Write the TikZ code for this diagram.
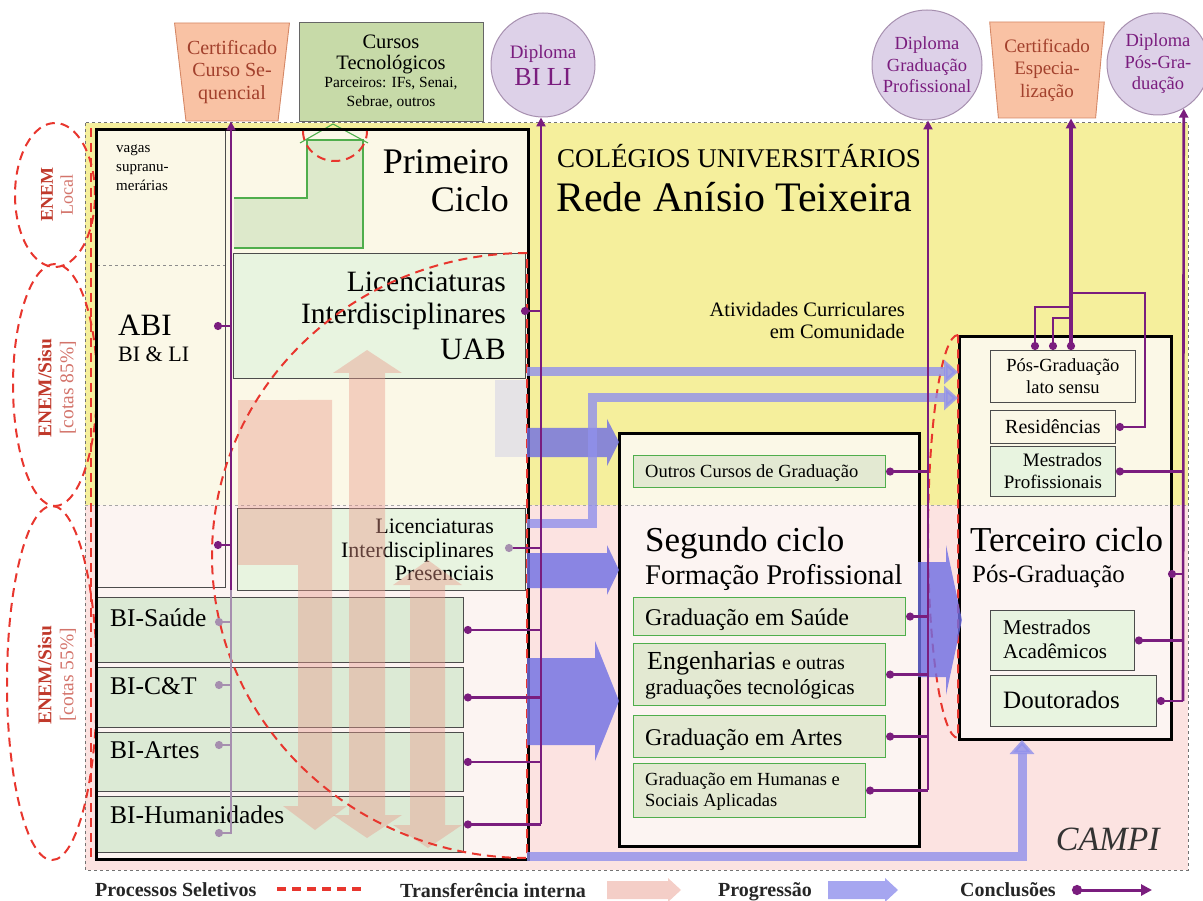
\documentclass[tikz,border=0pt]{standalone}
\usepackage{fontspec}
\setmainfont{Liberation Serif}
\usetikzlibrary{arrows.meta,shapes.geometric}

\definecolor{amarelo}{HTML}{F5EF9C}
\definecolor{rosa}{HTML}{FCE3E1}
\definecolor{creme}{HTML}{FBF8E7}
\definecolor{rosaclaro}{HTML}{FCF4F2}
\definecolor{verdeclaro}{HTML}{E8F4E0}
\definecolor{verdebi}{HTML}{DCEAD5}
\definecolor{verdegrad}{HTML}{E3E9D2}
\definecolor{verdeborda}{HTML}{4FAE4C}
\definecolor{cursotec}{HTML}{C7DAA8}
\definecolor{roxo}{HTML}{7A1D7E}
\definecolor{lilas}{HTML}{A68FAF}
\definecolor{lilasfundo}{HTML}{DDD1E8}
\definecolor{laranja}{HTML}{F9C2A4}
\definecolor{laranjaborda}{HTML}{D58866}
\definecolor{tijolo}{HTML}{A2402C}
\definecolor{vermelho}{HTML}{E8362E}
\definecolor{vinho}{HTML}{C0392B}
\definecolor{azul}{HTML}{6E6EE4}
\definecolor{azulclaro}{HTML}{9090EC}
\definecolor{transf}{HTML}{E8998A}

\newcommand{\fsz}[2]{\fontsize{#1}{#2}\selectfont}

\tikzset{
  caixa/.style={draw=black!70, line width=0.9pt, anchor=north west, inner sep=0pt},
  ciclo/.style={draw=black, line width=3pt, anchor=north west, inner sep=0pt},
  gradbox/.style={draw=verdeborda, line width=1.1pt, fill=verdegrad, anchor=north west, inner sep=0pt},
  txt/.style={inner sep=0pt},
  diploma/.style={circle, draw=lilas, line width=1pt, fill=lilasfundo, text=roxo, align=center, inner sep=0pt},
  certif/.style={trapezium, shape border rotate=180, trapezium stretches=true, draw=laranjaborda, line width=0.9pt, fill=laranja, text=tijolo, align=center, inner sep=0pt},
  sel/.style={rotate=90, align=center, text=vinho, inner sep=0pt},
  selecao/.style={draw=vermelho, line width=2pt, dash pattern=on 9pt off 6pt},
  concl/.style={draw=roxo, line width=2.2pt, arrows={Circle[length=8pt]-}},
  conclclaro/.style={draw=lilas, line width=2pt, arrows={Circle[length=8pt]-}},
  tronco/.style={draw=roxo, line width=2.6pt, arrows={-Triangle[length=9pt,width=9pt]}},
  progr/.style={fill=azul, opacity=0.8},
  progline/.style={draw=azulclaro, line width=9pt, opacity=0.8, line join=miter, arrows={-Triangle[length=14pt,width=24pt]}},
  transfer/.style={fill=transf, opacity=0.42},
}

\begin{document}
\begin{tikzpicture}[x=1pt,y=-1pt]
\useasboundingbox (0,0) rectangle (1203,901);

% fundos: colegios e campi
\fill[amarelo] (85,123) rectangle (1188,505);
\fill[rosa] (85,505) rectangle (1188,870);
\draw[black!55, dashed, line width=1pt] (85,123) rectangle (1188,870);

% processos seletivos
\draw[selecao] (55,195) ellipse [x radius=40pt, y radius=72pt];
\draw[selecao] (55,385) ellipse [x radius=42pt, y radius=121pt];
\draw[selecao] (52,683) ellipse [x radius=45pt, y radius=177pt];
\node[sel, font=\fsz{18}{20}] (enemlocal) at (57,195) {\textbf{ENEM}\\{\color{vinho!70}Local}};
\node[sel, font=\fsz{19.5}{22}] (enemsisu1) at (57,388) {\textbf{ENEM/Sisu}\\{\color{vinho!70}[cotas 85\%]}};
\node[sel, font=\fsz{19.5}{22}] (enemsisu2) at (57,675) {\textbf{ENEM/Sisu}\\{\color{vinho!70}[cotas 55\%]}};

% fundos dos ciclos
\fill[creme] (95,128) rectangle (527,505);
\fill[rosaclaro] (95,505) rectangle (527,858);
\fill[creme] (618,432) rectangle (918,505);
\fill[rosaclaro] (618,505) rectangle (918,845);
\fill[creme] (958,335) rectangle (1170,505);
\fill[rosaclaro] (958,505) rectangle (1170,738);
\draw[black!35, dashed, line width=1pt] (85,505) -- (1188,505);
\draw[selecao] (91,128) -- (91,858);

% primeiro ciclo
\node[caixa, minimum width=128pt, minimum height=459pt] (colesq) at (97,128) {};
\draw[black!45, dashed, line width=0.9pt] (97,265) -- (225,265);
\node[txt, anchor=north west, align=left, font=\fsz{15}{19}] (vagas) at (116,145) {vagas\\supranu-\\merárias};
\node[txt, anchor=base west, font=\fsz{31}{31}] (abi) at (118,336) {ABI};
\node[txt, anchor=base west, font=\fsz{22}{22}] (bili) at (118,362) {BI \& LI};
\draw[verdeborda, fill=cursotec!60, line width=1.1pt] (234,198) -- (307,198) -- (307,140) -- (363,140) -- (363,248) -- (234,248);
\draw[verdeborda, line width=1.1pt] (300,143) -- (333,124) -- (368,143);
\node[txt, anchor=base east, font=\fsz{36}{36}] (primeiro) at (509,174) {Primeiro};
\node[txt, anchor=base east, font=\fsz{36}{36}] (ciclotxt) at (509,212) {Ciclo};
\node[caixa, fill=verdeclaro, minimum width=292pt, minimum height=125pt] (uab) at (233,253) {};
\node[txt, anchor=base east, font=\fsz{29.5}{29}] (uabl1) at (506,292) {Licenciaturas};
\node[txt, anchor=base east, font=\fsz{29.5}{29}] (uabl2) at (506,324) {Interdisciplinares};
\node[txt, anchor=base east, font=\fsz{31}{31}] (uabl3) at (506,360) {UAB};
\node[caixa, fill=verdeclaro, minimum width=288pt, minimum height=82pt] (presenc) at (237,508) {};
\node[txt, anchor=base east, font=\fsz{22}{22}] (presl1) at (494,533) {Licenciaturas};
\node[txt, anchor=base east, font=\fsz{22}{22}] (presl2) at (494,557) {Interdisciplinares};
\node[txt, anchor=base east, font=\fsz{22}{22}] (presl3) at (494,580) {Presenciais};
\node[caixa, fill=verdebi, minimum width=366pt, minimum height=65pt] (bisaude) at (97,597) {};
\node[caixa, fill=verdebi, minimum width=366pt, minimum height=60pt] (bict) at (97,667) {};
\node[caixa, fill=verdebi, minimum width=366pt, minimum height=59pt] (biartes) at (97,732) {};
\node[caixa, fill=verdebi, minimum width=366pt, minimum height=56pt] (bihum) at (97,796) {};
\node[txt, anchor=base west, font=\fsz{25.5}{25}] (tsaude) at (110,626) {BI-Saúde};
\node[txt, anchor=base west, font=\fsz{25.5}{25}] (tct) at (110,694) {BI-C\&T};
\node[txt, anchor=base west, font=\fsz{25.5}{25}] (tartes) at (110,758) {BI-Artes};
\node[txt, anchor=base west, font=\fsz{25.5}{25}] (thum) at (110,823) {BI-Humanidades};

% transferencia interna
\fill[transfer] (238,400) rectangle (298,565);
\fill[transfer] (298,400) -- (332,400) -- (332,806) -- (347,806) -- (315,830) -- (283,806) -- (298,806) -- cycle;
\fill[transfer] (349,373) -- (333,373) -- (367,350) -- (402,373) -- (385,373) -- (385,815) -- (402,815) -- (367,838) -- (333,815) -- (349,815) -- cycle;
\fill[transfer] (410,585) -- (393,585) -- (428,560) -- (462,585) -- (445,585) -- (445,825) -- (462,825) -- (428,848) -- (393,825) -- (410,825) -- cycle;
\fill[azul, opacity=0.15] (495,380) rectangle (527,457);

\node[ciclo, minimum width=432pt, minimum height=730pt] (ciclo1) at (95,128) {};
\draw[selecao] (527,253) arc[start angle=90, end angle=270, x radius=315pt, y radius=302.5pt] -- cycle;
\draw[selecao] (303,131) arc[start angle=180, end angle=360, x radius=32pt, y radius=30pt];

% colegios universitarios
\node[txt, anchor=base west, font=\fsz{27}{27}] (colegios) at (557,168) {COLÉGIOS UNIVERSITÁRIOS};
\node[txt, anchor=base west, font=\fsz{42}{42}] (rede) at (556,212) {Rede Anísio Teixeira};
\node[txt, anchor=base east, font=\fsz{20.5}{20}] (ativ) at (905,317) {Atividades Curriculares};
\node[txt, anchor=base east, font=\fsz{20.5}{20}] (comun) at (905,339) {em Comunidade};

% segundo ciclo
\node[ciclo, minimum width=300pt, minimum height=413pt] (ciclo2) at (618,432) {};
\node[gradbox, minimum width=252pt, minimum height=32pt] (outros) at (633,455) {};
\node[txt, anchor=base west, font=\fsz{18.5}{18}] (outrostxt) at (645,477) {Outros Cursos de Graduação};
\node[txt, anchor=base west, font=\fsz{35}{35}] (segundo) at (645,551) {Segundo ciclo};
\node[txt, anchor=base west, font=\fsz{28.5}{28}] (formacao) at (645,584) {Formação Profissional};
\node[gradbox, minimum width=272pt, minimum height=38pt] (gsaude) at (633,597) {};
\node[txt, anchor=base west, font=\fsz{24}{24}] (gsaudetxt) at (645,625) {Graduação em Saúde};
\node[gradbox, minimum width=252pt, minimum height=62pt] (geng) at (633,643) {};
\node[txt, anchor=base west, font=\fsz{26}{26}] (gengl1) at (647,669) {Engenharias {\fsz{20}{20}e outras}};
\node[txt, anchor=base west, font=\fsz{21.5}{21}] (gengl2) at (645,694) {graduações tecnológicas};
\node[gradbox, minimum width=252pt, minimum height=42pt] (gartes) at (633,715) {};
\node[txt, anchor=base west, font=\fsz{24}{24}] (gartestxt) at (645,745) {Graduação em Artes};
\node[gradbox, minimum width=232pt, minimum height=54pt] (ghum) at (633,763) {};
\node[txt, anchor=base west, font=\fsz{18.5}{18}] (ghuml1) at (645,785) {Graduação em Humanas e};
\node[txt, anchor=base west, font=\fsz{18.5}{18}] (ghuml2) at (645,806) {Sociais Aplicadas};

% terceiro ciclo
\node[ciclo, minimum width=212pt, minimum height=403pt] (ciclo3) at (958,335) {};
\node[caixa, fill=creme, minimum width=145pt, minimum height=52pt, align=center, font=\fsz{18.5}{22}] (lato) at (990,350) {Pós-Graduação\\lato sensu};
\node[caixa, fill=creme, minimum width=125pt, minimum height=33pt, font=\fsz{20}{20}] (resid) at (990,410) {Residências};
\node[caixa, fill=verdeclaro, minimum width=125pt, minimum height=50pt, align=right, font=\fsz{19}{22}] (mprof) at (990,446) {Mestrados\\Profissionais};
\node[txt, anchor=base west, font=\fsz{35}{35}] (terceiro) at (970,551) {Terceiro ciclo};
\node[txt, anchor=base west, font=\fsz{25}{25}] (posgrad) at (972,582) {Pós-Graduação};
\node[caixa, fill=verdeclaro, minimum width=144pt, minimum height=60pt] (macad) at (990,610) {};
\node[txt, anchor=north west, align=left, font=\fsz{21}{24}] (macadtxt) at (1003,620) {Mestrados\\Acadêmicos};
\node[caixa, fill=verdeclaro, minimum width=166pt, minimum height=51pt] (dout) at (990,675) {};
\node[txt, anchor=base west, font=\fsz{25}{25}] (douttxt) at (1003,708) {Doutorados};
\draw[selecao] (958,335) arc[start angle=90, end angle=270, x radius=30pt, y radius=201.5pt] -- cycle;

% progressao
\coordinate (p2a) at (527,372);  \coordinate (p2b) at (958,372);
\coordinate (p3a) at (527,523);  \coordinate (p3c) at (592,398);  \coordinate (p3b) at (958,398);
\coordinate (p7a) at (527,856);  \coordinate (p7b) at (1022,740);
\fill[progr] (527,428) -- (607,428) -- (607,419) -- (619,442) -- (607,466) -- (607,457) -- (527,457) -- cycle;
\fill[progr] (527,553) -- (607,553) -- (607,545) -- (619,570) -- (607,595) -- (607,588) -- (527,588) -- cycle;
\fill[progr] (527,658) -- (595,658) -- (595,641) -- (619,701) -- (595,761) -- (595,745) -- (527,745) -- cycle;
\fill[progr] (918,562) -- (946,562) -- (946,545) -- (962,620) -- (946,695) -- (946,677) -- (918,677) -- cycle;
\draw[progline] (p2a) -- (p2b);
\draw[progline] (p3a) -| (p3c) -- (p3b);
\draw[progline] (p7a) -| (p7b);

% diplomas e certificados
\node[certif, trapezium angle=80, minimum width=115pt, minimum height=98pt, font=\fsz{20}{22.5}] (certseq) at (232,72) {Certificado\\Curso Se-\\quencial};
\node[draw=black!60, line width=0.9pt, fill=cursotec, minimum width=184pt, minimum height=99pt, align=center, inner sep=0pt, font=\fsz{20.5}{21}] (cursostec) at (391,72) {Cursos\\Tecnológicos\\[-3pt]{\fsz{15.5}{16}Parceiros: IFs, Senai,}\\[-2pt]{\fsz{15.5}{16}Sebrae, outros}};
\node[diploma, minimum size=104pt, font=\fsz{19}{27}] (dipbi) at (543,65) {Diploma\\{\fsz{26}{27}BI LI}};
\node[diploma, minimum size=110pt, font=\fsz{18.5}{21.5}] (dipgrad) at (927,65) {Diploma\\Graduação\\Profissional};
\node[certif, trapezium angle=83, minimum width=115pt, minimum height=96pt, font=\fsz{19}{22.5}] (certesp) at (1047,70) {Certificado\\Especia-\\lização};
\node[diploma, minimum size=102pt, font=\fsz{18.5}{21.5}] (dippos) at (1158,64) {Diploma\\Pós-Gra-\\duação};

% conclusoes
\coordinate (t1) at (231,590);
\coordinate (t1b) at (231,834);
\coordinate (t2) at (541,824);
\coordinate (t3) at (928,790);
\coordinate (t4) at (1071,350);
\coordinate (t5) at (1183,701);
\coordinate (dabi) at (214,326);
\coordinate (dabi2) at (214,545);
\coordinate (lsaude) at (215,622);
\coordinate (lct) at (215,685);
\coordinate (lartes) at (215,745);
\coordinate (lhum) at (215,833);
\coordinate (duab) at (521,311);
\coordinate (dpres) at (505,548);
\coordinate (lato1) at (1035,350);
\coordinate (lato2) at (1053,350);
\coordinate (j1) at (1071,307);
\coordinate (j2) at (1071,318);
\coordinate (j3) at (1071,293);
\coordinate (rvolta) at (1145,293);
\coordinate (dpos) at (1168,574);

\draw[lilas, line width=2pt] (t1b) -- (t1);
\draw[conclclaro] (lsaude) -- (lsaude -| t1);
\draw[conclclaro] (lct) -- (lct -| t1);
\draw[conclclaro] (lartes) -- (lartes -| t1);
\draw[conclclaro] (lhum) -- (lhum -| t1);
\draw[concl] (dabi) -- (dabi -| t1);
\draw[concl] (dabi2) -- (dabi2 -| t1);
\draw[tronco] (t1) -- (t1 |- certseq.south);

\draw[concl] (duab) -- (duab -| t2);
\draw[concl, arrows={Circle[length=8pt,color=lilas]-}] (dpres) -- (dpres -| t2);
\draw[concl] (bisaude.east) -- (bisaude.east -| t2);
\draw[concl] (bict.east) -- (bict.east -| t2);
\draw[concl] (biartes.east) -- (biartes.east -| t2);
\draw[concl] (bihum.east) -- (bihum.east -| t2);
\draw[tronco] (t2) -- (t2 |- dipbi.south);

\draw[concl] (outros.east) -- (outros.east -| t3);
\draw[concl] (gsaude.east) -- (gsaude.east -| t3);
\draw[concl] (geng.east) -- (geng.east -| t3);
\draw[concl] (gartes.east) -- (gartes.east -| t3);
\draw[concl] (ghum.east) -- (ghum.east -| t3);
\draw[tronco] (t3) -- (t3 |- dipgrad.south);

\draw[concl] (lato1) |- (j1);
\draw[concl] (lato2) |- (j2);
\draw[concl] (resid.east) -| (rvolta) -- (j3);
\draw[tronco, line width=3.5pt, arrows={Circle[length=8pt]-Triangle[length=10pt,width=10pt]}] (t4) -- (t4 |- certesp.south);

\draw[concl] (mprof.east) -- (mprof.east -| t5);
\draw[concl] (dpos) -- (dpos -| t5);
\draw[concl] (macad.east) -- (macad.east -| t5);
\draw[concl] (dout.east) -- (dout.east -| t5);
\draw[tronco] (t5) -- (dippos.-60);

\node[txt, anchor=base east, font=\fsz{34}{34}\itshape, text=black!80] (campi) at (1160,850) {CAMPI};

% legenda
\node[txt, anchor=base west, font=\fsz{20}{20}\bfseries, text=black!85] (legsel) at (95,896) {Processos Seletivos};
\coordinate (legsel1) at (277,889);
\coordinate (legsel2) at (366,889);
\draw[selecao, line width=3.5pt] (legsel1) -- (legsel2);
\node[txt, anchor=base west, font=\fsz{20}{20}\bfseries, text=black!85] (legtransf) at (400,897) {Transferência interna};
\fill[transf!80, opacity=0.6] (607,881) -- (668,881) -- (668,878) -- (681,890) -- (668,902) -- (668,899) -- (607,899) -- cycle;
\node[txt, anchor=base west, font=\fsz{20}{20}\bfseries, text=black!85] (legprog) at (718,896) {Progressão};
\fill[azulclaro, opacity=0.8] (828,881) -- (885,881) -- (885,878) -- (898,890) -- (885,902) -- (885,899) -- (828,899) -- cycle;
\node[txt, anchor=base west, font=\fsz{20}{20}\bfseries, text=black!85] (legconcl) at (960,896) {Conclusões};
\coordinate (legc1) at (1072,890);
\coordinate (legc2) at (1152,890);
\draw[concl, line width=3pt, arrows={Circle[length=10pt]-Triangle[length=11pt,width=11pt]}] (legc1) -- (legc2);
\end{tikzpicture}
\end{document}
